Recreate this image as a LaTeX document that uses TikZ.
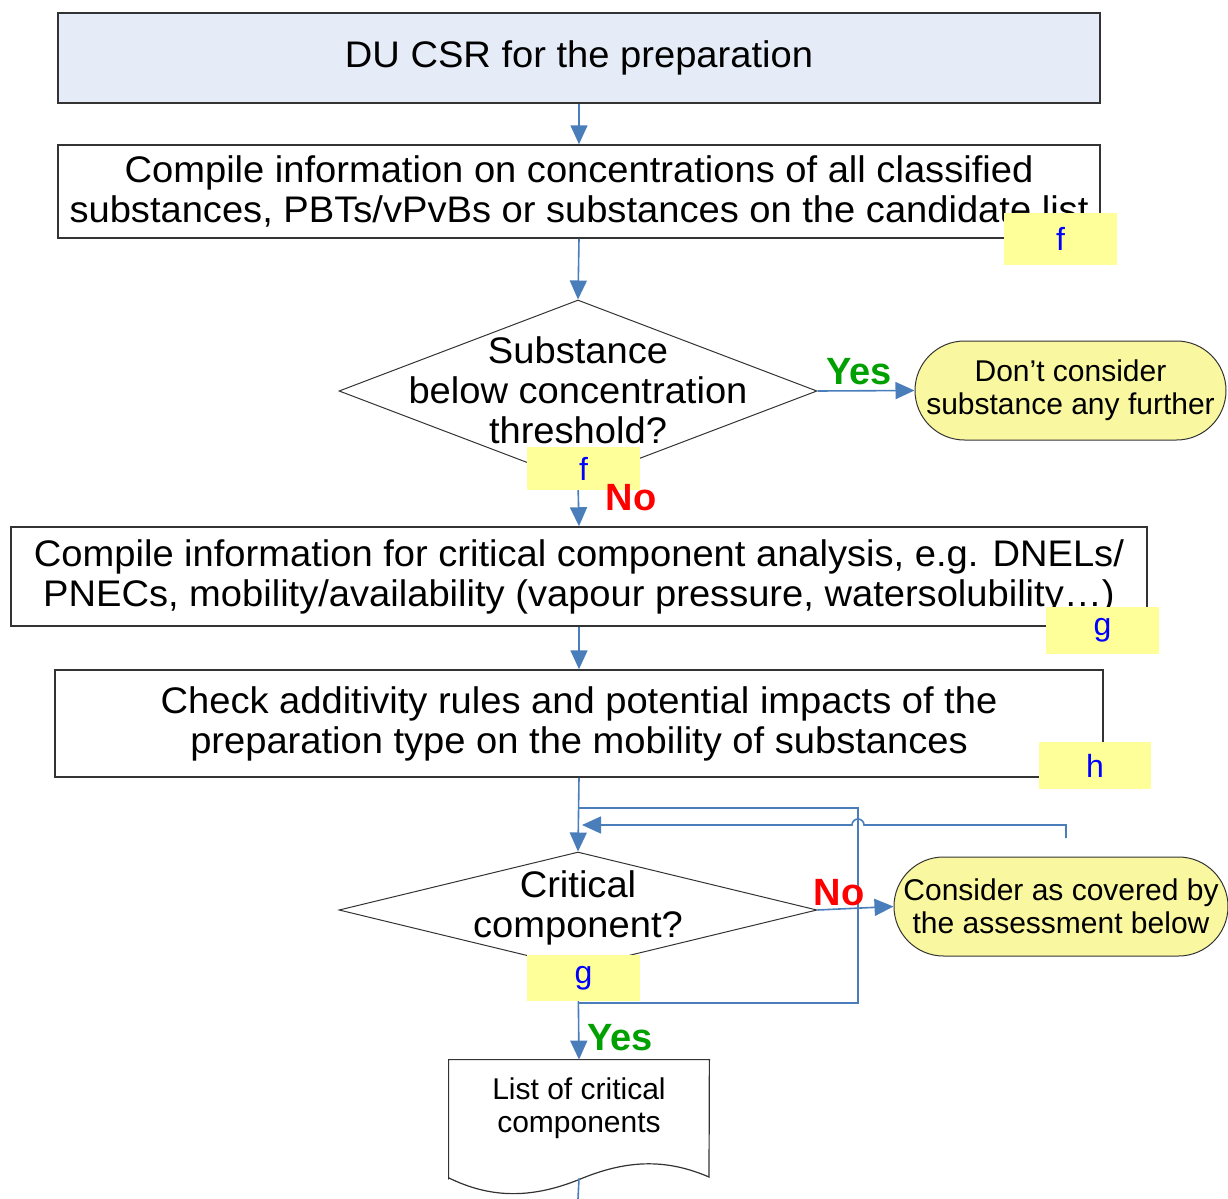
\documentclass[tikz,border=0pt]{standalone}
\usepackage{fontspec}
\setmainfont{Liberation Sans}
\newfontfamily\widefont[FakeStretch=1.03]{Liberation Sans}
\usetikzlibrary{shapes.geometric,shapes.misc,arrows.meta}
\definecolor{arrblue}{HTML}{4A7EBB}
\definecolor{boxblue}{HTML}{E6ECF7}
\definecolor{tagyel}{HTML}{FFFF99}
\definecolor{ellyel}{HTML}{F9F7A0}
\definecolor{yesgreen}{HTML}{00A000}
\definecolor{nored}{HTML}{FF0000}
\definecolor{tagblue}{HTML}{0000FF}
\newcommand\mfont{\widefont\fontsize{18.5}{20}\selectfont}
\newcommand\sfont{\fontsize{15}{16.5}\selectfont}
\tikzset{
  procbox/.style={draw=black!80, line width=0.75pt, inner sep=0pt, align=center, font=\mfont},
  decbox/.style={diamond, draw=black!80, line width=0.5pt, inner sep=0pt, aspect=2},
  endbox/.style={rounded rectangle, draw=black!80, line width=0.5pt, fill=ellyel, inner sep=0pt, align=center, font=\sfont, minimum height=49.5pt},
  tagbox/.style={fill=tagyel, inner sep=0pt, minimum width=56.5pt, font=\fontsize{16}{18}\selectfont, text=tagblue},
  conn/.style={draw=arrblue, line width=0.8pt},
  flow/.style={conn, -{Triangle[width=8.5pt,length=9.5pt]}},
  yeslab/.style={font=\fontsize{19}{21}\selectfont\bfseries, text=yesgreen, inner sep=0pt},
  nolab/.style={font=\fontsize{19}{21}\selectfont\bfseries, text=nored, inner sep=0pt},
}
\begin{document}
\begin{tikzpicture}[x=0.5pt,y=-0.5pt]
\useasboundingbox (0,0) rectangle (1228,1199);
% boxes
\node[procbox, fill=boxblue, minimum width=521pt, minimum height=45pt] (b1) at (579,58) {DU CSR for the preparation};
\node[procbox, minimum width=521pt, minimum height=46.5pt] (b2) at (579,191.5) {Compile information on concentrations of all classified\\substances, PBTs/vPvBs or substances on the candidate list};
\node[decbox, minimum width=239pt, minimum height=91pt] (d1) at (578,391) {};
\node[align=center, font=\mfont, inner sep=0pt] (d1t) at (578,390) {Substance\\below concentration\\threshold?};
\node[endbox, minimum width=155.5pt] (e1) at (1070.5,390.5) {Don’t consider\\substance any further};
\node[procbox, minimum width=568pt, minimum height=49.5pt] (b3) at (579,576.5) {Compile information for critical component analysis, e.g. DNELs/\\PNECs, mobility/availability (vapour pressure, watersolubility…)};
\node[procbox, minimum width=524pt, minimum height=53.5pt] (b4) at (579,723.5) {Check additivity rules and potential impacts of the\\preparation type on the mobility of substances};
\node[decbox, minimum width=239pt, minimum height=58pt] (d2) at (578,910) {};
\node[align=center, font=\mfont, inner sep=0pt] (d2t) at (578,908) {Critical\\component?};
\node[endbox, minimum width=167pt] (e2) at (1061,906.5) {Consider as covered by\\the assessment below};
\node[minimum width=130pt, minimum height=59pt, inner sep=0pt] (doc) at (579,1119) {};
\draw[draw=black!80, line width=0.6pt, fill=white] (doc.south west) -- (doc.north west) -- (doc.north east) -- (709,1177)
  .. controls (665,1158) and (625,1160) .. (578,1180)
  .. controls (530,1199) and (490,1198) .. (449,1178) -- cycle;
\node[align=center, font=\sfont, inner sep=0pt] (doct) at (579,1108) {List of critical\\components};

% coordinates
\coordinate (j1) at (578,808);
\coordinate (j2) at (858,808);
\coordinate (j3) at (858,1003);
\coordinate (j4) at (578,1003);
\coordinate (fb0) at (1066,838);
\coordinate (fb1) at (1066,825);
\coordinate (hop) at (864,825);
\coordinate (fbend) at (582,825);
\coordinate (bot) at (578,1199);

% connectors
\draw[flow] (b1.south) -- (b2.north);
\draw[flow] (b2.south) -- (d1.north);
\draw[flow] (d1.south) -- (b3.north);
\draw[flow] (d1.east) -- (e1.west);
\draw[flow] (b3.south) -- (b4.north);
\draw[flow] (b4.south) -- (d2.north);
\draw[conn] (j1) -- (j2) -- (j3) -- (j4);
\draw[flow] (fb0) -- (fb1) -- (hop) arc[start angle=0, end angle=180, radius=3pt] -- (fbend);
\draw[flow] (d2.east) -- (e2.west);
\draw[flow] (d2.south) -- (doc.north);
\draw[conn] (doc.south) -- (bot);

% tags
\node[tagbox, minimum height=26pt] (tf1) at (1060.5,239) {f};
\node[tagbox, minimum height=21.5pt] (tf2) at (583.5,468.5) {f};
\node[tagbox, minimum height=23.5pt] (tg1) at (1102.5,630.5) {g};
\node[tagbox, minimum height=23.5pt, minimum width=56pt] (th) at (1095,765.5) {h};
\node[tagbox, minimum height=23pt] (tg2) at (583.5,978) {g};

% labels
\node[yeslab] (y1) at (859,372) {Yes};
\node[nolab] (n1) at (631,498) {No};
\node[nolab] (n2) at (839,893) {No};
\node[yeslab] (y2) at (620,1038) {Yes};
\end{tikzpicture}
\end{document}
